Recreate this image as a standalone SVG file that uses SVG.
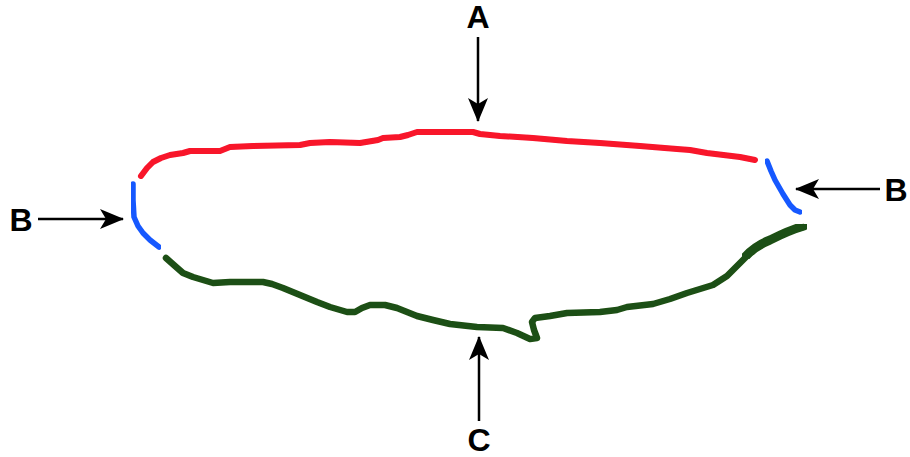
<svg xmlns="http://www.w3.org/2000/svg" width="910" height="457" viewBox="0 0 910 457">
<defs>
<marker id="ah" viewBox="0 0 24 20" refX="23" refY="10" markerWidth="24" markerHeight="20" markerUnits="userSpaceOnUse" orient="auto">
<path d="M0,0 L24,10 L0,20 L6,10 Z" fill="#000"/>
</marker>
<filter id="soft" x="-5%" y="-5%" width="110%" height="110%"><feGaussianBlur stdDeviation="0.6"/></filter>
</defs>
<style>
.lbl{font-family:"Liberation Sans",Arial,sans-serif;font-weight:bold;font-size:32px;fill:#000;text-anchor:middle}
.arr{stroke:#000;stroke-width:2.5;fill:none;marker-end:url(#ah)}
.crv{fill:none;stroke-linecap:round;stroke-linejoin:round;filter:url(#soft)}
.red{stroke:#f8132c;stroke-width:6}
.blue{stroke:#1559ff;stroke-width:5.5}
.green{stroke:#1d4f12;stroke-width:6.5}
</style>
<rect width="910" height="457" fill="#fff"/>
<g id="curves">
<polyline id="curveA" class="crv red" points="141,176 147,168 153,162 161,158 170,155 183,153 190,151 220,151 225,149 230,147 253,146 300,145 310,143 330,142 360,143 378,140 383,138 400,137 408,135 417,132 473,132 480,134 500,136 533,138 567,141 600,143 640,146 677,149 690,150 707,153 740,157 755,160"/>
<polyline id="curveBL" class="crv blue" points="133,184 133,200 134,217 138,226 143,233 150,240 159,247"/>
<polyline id="curveBR" class="crv blue" points="767,161 771,171 775,180 783,194 790,205 795,210 800,212"/>
<polyline id="curveC" class="crv green" points="166,258 175,266 183,273 193,277 203,280 213,283 230,282 263,282 272,284 283,288 300,295 317,302 330,307 347,312 355,312 362,308 370,305 385,305 397,308 417,316 433,320 450,324 477,327 503,328 517,333 530,339 537,338 534,330 532,322 535,318 550,316 567,313 600,312 617,310 627,307 653,304 670,299 687,293 700,289 713,285 727,276 740,263 753,250 773,238 790,231 803,227"/>
<path d="M745,257 Q755,246 770,240 Q790,230 804,226" fill="none" stroke="#1d4f12" stroke-width="9" stroke-linecap="round" filter="url(#soft)"/>
</g>
<g id="connectors">
<line class="arr" x1="478" y1="37" x2="478" y2="121"/>
<line class="arr" x1="479" y1="421" x2="479" y2="337"/>
<line class="arr" x1="38" y1="219" x2="123" y2="219"/>
<line class="arr" x1="880" y1="189" x2="796" y2="189"/>
</g>
<g id="labelA"><text class="lbl" x="478" y="28">A</text></g>
<g id="labelBL"><text class="lbl" x="21" y="231">B</text></g>
<g id="labelBR"><text class="lbl" x="896" y="201">B</text></g>
<g id="labelC"><text class="lbl" x="479" y="451">C</text></g>
</svg>
